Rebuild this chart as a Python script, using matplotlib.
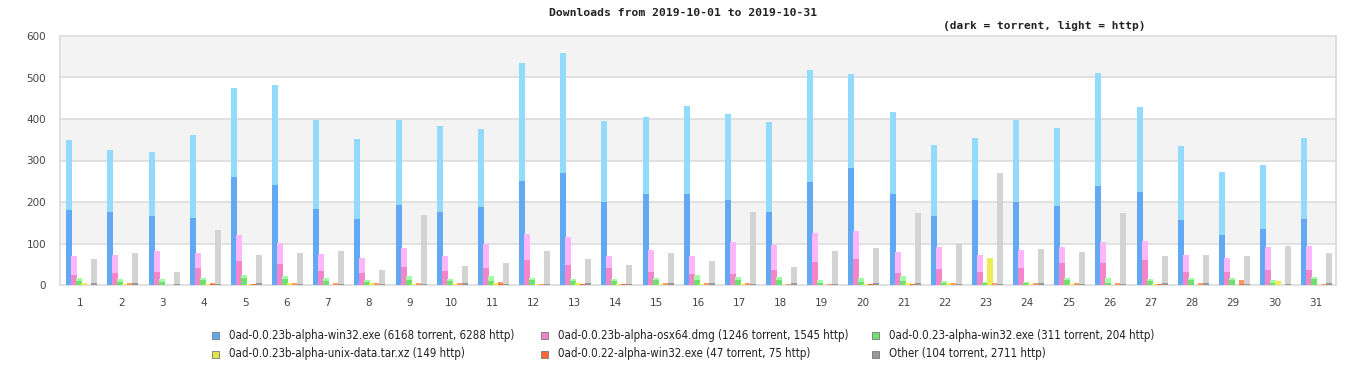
import numpy as np
import matplotlib
matplotlib.use("Agg")
import matplotlib.pyplot as plt
from matplotlib.patches import Rectangle

# days of the month
days = list(range(1, 32))

# 0ad-0.0.23b-alpha-win32.exe
win32_torrent = [180, 175, 166, 161, 260, 241, 183, 159, 192, 175, 187, 250, 269, 200, 219, 219,
                 204, 175, 248, 282, 219, 166, 204, 200, 190, 238, 224, 156, 120, 134, 159]
win32_http = [169, 150, 154, 200, 215, 241, 215, 193, 206, 208, 189, 285, 290, 195, 186, 212,
              208, 218, 270, 226, 198, 171, 150, 198, 188, 273, 205, 179, 152, 155, 195]

# 0ad-0.0.23b-alpha-osx64.dmg
osx_torrent = [25, 29, 32, 41, 58, 51, 34, 29, 44, 34, 41, 61, 49, 41, 32, 27,
               27, 37, 56, 63, 29, 39, 32, 41, 54, 54, 61, 32, 32, 37, 37]
osx_http = [45, 43, 50, 36, 62, 50, 41, 36, 45, 36, 58, 62, 67, 29, 52, 43,
            77, 59, 69, 67, 51, 53, 40, 43, 38, 50, 45, 40, 33, 55, 57]

# 0ad-0.0.23-alpha-win32.exe
old_torrent = [9, 7, 7, 12, 17, 14, 9, 7, 12, 10, 9, 12, 10, 9, 12, 12,
               12, 12, 4, 7, 9, 5, 4, 4, 12, 4, 9, 12, 12, 4, 14]
old_http = [8, 7, 7, 5, 7, 8, 8, 5, 10, 4, 13, 5, 4, 5, 5, 12,
            7, 7, 8, 10, 13, 5, 3, 3, 5, 13, 5, 5, 5, 8, 5]

# 0ad-0.0.23b-alpha-unix-data.tar.xz (http only)
unix_http = [5, 3, 0, 3, 3, 5, 0, 5, 3, 3, 5, 3, 5, 3, 3, 3,
             3, 0, 0, 3, 5, 5, 65, 3, 3, 0, 3, 0, 0, 10, 0]

# 0ad-0.0.22-alpha-win32.exe
a22_torrent = [0, 1, 0, 2, 3, 1, 1, 1, 1, 1, 2, 1, 2, 3, 1, 1,
               1, 1, 1, 2, 2, 1, 1, 1, 1, 1, 2, 1, 2, 0, 1]
a22_http = [0, 4, 0, 3, 0, 4, 4, 4, 4, 4, 5, 2, 1, 0, 4, 4,
            4, 2, 2, 1, 1, 4, 4, 4, 4, 4, 1, 4, 10, 0, 2]

# Other
other_total = [63, 77, 31, 132, 72, 77, 82, 36, 168, 46, 53, 82, 63, 48, 77, 58,
               175, 43, 82, 89, 173, 99, 270, 87, 80, 173, 70, 72, 70, 94, 77]
other_torrent = [4, 4, 2, 2, 4, 2, 2, 2, 2, 4, 2, 2, 4, 2, 4, 4,
                 2, 4, 2, 4, 4, 2, 2, 4, 2, 2, 4, 4, 2, 2, 4]

labels = ["0ad-0.0.23b-alpha-win32.exe (6168 torrent, 6288 http)",
          "0ad-0.0.23b-alpha-osx64.dmg (1246 torrent, 1545 http)",
          "0ad-0.0.23-alpha-win32.exe (311 torrent, 204 http)",
          "0ad-0.0.23b-alpha-unix-data.tar.xz (149 http)",
          "0ad-0.0.22-alpha-win32.exe (47 torrent, 75 http)",
          "Other (104 torrent, 2711 http)"]

other_http = [t - d for t, d in zip(other_total, other_torrent)]
zeros = [0] * len(days)

series = [
    (win32_torrent, win32_http, "#62a8f2", "#92dbfd"),
    (osx_torrent, osx_http, "#f285cc", "#fcb6fc"),
    (old_torrent, old_http, "#6ee06e", "#a3fba3"),
    (zeros, unix_http, "#e3e34a", "#ecec55"),
    (a22_torrent, a22_http, "#ff6633", "#ff9966"),
    (other_torrent, other_http, "#999999", "#d3d3d3"),
]

W, H = 1366, 380
fig = plt.figure(figsize=(W / 100, H / 100), dpi=100)
ax = fig.add_axes([60 / W, (H - 285) / H, 1276 / W, 249 / H])

# background bands
for lo in (100, 300, 500):
    ax.axhspan(lo, lo + 100, color="#f3f3f3", zorder=0, lw=0)
for v in range(100, 600, 100):
    ax.axhline(v, color="#dddddd", lw=1.2, zorder=1)

x = np.array(days, dtype=float)
step = 5 / 41.16
width = 6 / 41.16
for k, (tor, htp, dark, light) in enumerate(series):
    pos = x + (k - 2.5) * step + 0.03
    ax.bar(pos, tor, width=width, color=dark, lw=0, zorder=3)
    ax.bar(pos, htp, width=width, bottom=tor, color=light, lw=0, zorder=3)

ax.set_xlim(0.5, 31.5)
ax.set_ylim(0, 600)
ax.set_xticks(days)
ax.set_xticklabels([str(d) for d in days])
ax.set_yticks(range(0, 700, 100))
ax.tick_params(length=0, labelsize=7.5, labelcolor="#444444", pad=9)
ax.tick_params(axis="y", pad=10)
for s in ax.spines.values():
    s.set_color("#dadada")
    s.set_linewidth(1.2)

# titles
fig.text(683 / W, 1 - 13 / H, "Downloads from 2019-10-01 to 2019-10-31", ha="center", va="center",
         family="DejaVu Sans Mono", weight="bold", fontsize=8.2, color="#222222")
fig.text(943 / W, 1 - 26 / H, "(dark = torrent, light = http)", ha="left", va="center",
         family="DejaVu Sans Mono", weight="bold", fontsize=8.0, color="#222222")

# legend
col_x = [212, 541, 872]
row_y = [335, 354]
for i, (lab, s) in enumerate(zip(labels, series)):
    cx = col_x[i % 3]
    cy = row_y[i // 3]
    fig.patches.append(Rectangle((cx / W, 1 - (cy + 3.5) / H), 7 / W, 7 / H, transform=fig.transFigure,
                                 facecolor=s[2], edgecolor="#777777", lw=0.6))
    fig.text((cx + 17) / W, 1 - cy / H, lab, ha="left", va="center",
             family="DejaVu Sans", fontstretch="condensed", fontsize=8.3, color="#222222")

fig.savefig("out.png", dpi=100)
